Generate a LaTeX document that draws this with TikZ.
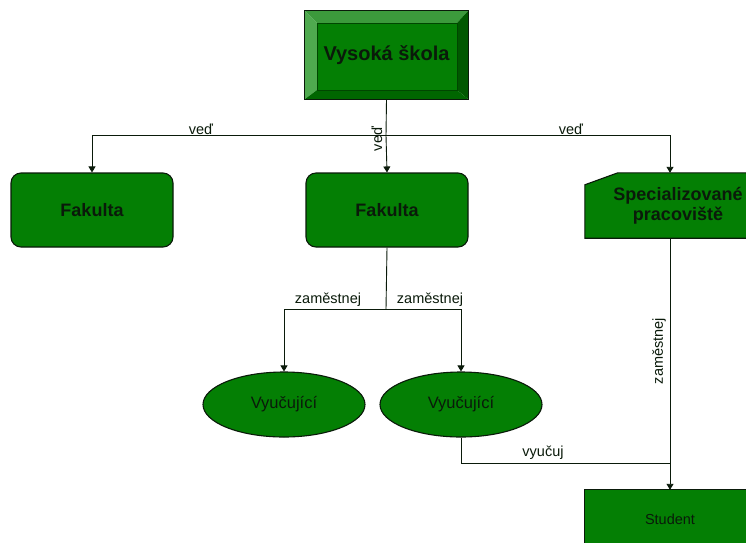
\documentclass[tikz,border=0pt]{standalone}
\usepackage{fontspec}
\setmainfont{Liberation Sans}
\usetikzlibrary{arrows.meta,shapes.geometric,backgrounds,calc}
\definecolor{gfill}{HTML}{047F04}
\definecolor{gtop}{HTML}{3C9A3C}
\definecolor{gleft}{HTML}{4FAA4F}
\definecolor{gright}{HTML}{005800}
\definecolor{gbot}{HTML}{006600}
\definecolor{ink}{HTML}{0A1A0A}
\tikzset{
  box/.style={draw=ink, line width=1.1pt, fill=gfill, rounded corners=10pt,
    minimum width=162pt, minimum height=74pt, inner sep=0pt,
    font=\fontsize{18}{21}\selectfont\bfseries, text=ink},
  oval/.style={ellipse, draw=ink, line width=1.1pt, fill=gfill,
    minimum width=162pt, minimum height=65pt, inner sep=0pt,
    font=\fontsize{16.5}{19}\selectfont, text=ink},
  plain/.style={inner sep=0pt, minimum width=170pt, minimum height=58pt},
  lbl/.style={inner sep=0pt, font=\fontsize{14.5}{17}\selectfont, text=ink},
  conn/.style={draw=ink, line width=0.9pt},
  arr/.style={conn, -{Triangle[width=7pt,length=6pt]}}
}
\begin{document}
\begin{tikzpicture}[x=1pt,y=-1pt]
\useasboundingbox (0,0) rectangle (746,542);
\clip (0,0) rectangle (746,542);

% top bevelled box
\node[inner sep=0pt, minimum width=163pt, minimum height=88pt,
  font=\fontsize{20}{23}\selectfont\bfseries, text=ink] (vs) at (386.5,55) {Vysoká škola};
\begin{pgfonlayer}{background}
  \fill[white] (0,0) rectangle (746,542);
  \fill[gtop] (vs.north west) -- (vs.north east) -- ($(vs.north east)+(-11,12)$) -- ($(vs.north west)+(12,12)$) -- cycle;
  \fill[gleft] (vs.north west) -- ($(vs.north west)+(12,12)$) -- ($(vs.south west)+(12,-9)$) -- (vs.south west) -- cycle;
  \fill[gright] (vs.north east) -- (vs.south east) -- ($(vs.south east)+(-11,-9)$) -- ($(vs.north east)+(-11,12)$) -- cycle;
  \fill[gbot] (vs.south west) -- (vs.south east) -- ($(vs.south east)+(-11,-9)$) -- ($(vs.south west)+(12,-9)$) -- cycle;
  \filldraw[fill=gfill, draw=gright!80!black, line width=0.6pt] ($(vs.north west)+(12,12)$) rectangle ($(vs.south east)+(-11,-9)$);
  \draw[ink, line width=1.1pt] (vs.north west) rectangle (vs.south east);
\end{pgfonlayer}

% second row
\node[box] (fak1) at (92,210) {Fakulta};
\node[box] (fak2) at (387,210) {Fakulta};
\node[inner sep=0pt, minimum width=186pt, minimum height=65pt, align=center,
  font=\fontsize{18}{20}\selectfont\bfseries, text=ink] (spec) at (678,205.5) {Specializované\\pracoviště};
\begin{pgfonlayer}{background}
  \filldraw[fill=gfill, draw=ink, line width=1.1pt] (spec.south west) -- ($(spec.north west)+(0,12)$) -- ($(spec.north west)+(33,0)$) -- (spec.north east) -- (spec.south east) -- cycle;
\end{pgfonlayer}

% ellipses
\node[oval] (ell1) at (284,404.5) {Vyučující};
\node[oval] (ell2) at (461,404.5) {Vyučující};

% student
\node[plain, font=\fontsize{14.5}{17}\selectfont, text=ink] (stu) at (670,519) {Student};
\begin{pgfonlayer}{background}
  \filldraw[fill=gfill, draw=ink, line width=1.1pt] (stu.south west) rectangle (stu.north east);
\end{pgfonlayer}

% connectors
\coordinate (j1) at (386,135.5);
\coordinate (j2) at (386,309);
\coordinate (j3) at (670,463);
\coordinate (specin) at ($(spec.north)+(-8,0)$);
\coordinate (specout) at ($(spec.south)+(-8,0)$);
\draw[conn] (vs.south) -- (j1);
\draw[arr] (j1) -| (fak1.north);
\draw[arr] (j1) -- (fak2.north);
\draw[arr] (j1) -| (specin);
\draw[conn] (fak2.south) -- (j2);
\draw[arr] (j2) -| (ell1.north);
\draw[arr] (j2) -| (ell2.north);
\draw[arr] (specout) -- (stu.north);
\draw[conn] (ell2.south) |- (j3);

% labels
\node[lbl] (l1) at (201,129) {veď};
\node[lbl, rotate=90] (l2) at (377,139) {veď};
\node[lbl] (l3) at (571,129) {veď};
\node[lbl] (l4) at (328,300) {zaměstnej};
\node[lbl] (l5) at (430,300) {zaměstnej};
\node[lbl, rotate=90] (l6) at (659,351) {zaměstnej};
\node[lbl] (l7) at (543,453) {vyučuj};
\end{tikzpicture}
\end{document}
